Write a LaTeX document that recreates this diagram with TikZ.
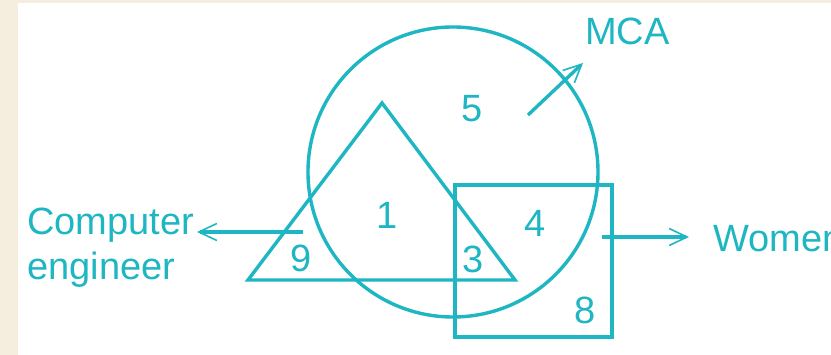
\documentclass[tikz,border=0pt]{standalone}
\usepackage{fontspec}
\setmainfont{Liberation Sans}
\usetikzlibrary{arrows.meta}
\definecolor{Teal}{HTML}{1DB6C2}
\definecolor{Paper}{HTML}{F5EEDF}
\tikzset{
  shapeline/.style={draw=Teal,line width=3.4pt,line join=miter},
  flow/.style={-{Straight Barb[length=18pt,width=17pt,line width=1.6pt]},draw=Teal,line width=3.4pt},
  num/.style={text=Teal,inner sep=0pt,font=\fontsize{38}{45}\selectfont},
  lbl/.style={text=Teal,inner sep=0pt,align=left,font=\fontsize{38}{45}\selectfont}
}
\begin{document}
\begin{tikzpicture}[x=1pt,y=-1pt]
        \useasboundingbox (0,0) rectangle (831,355);
        \fill[Paper] (0,0) rectangle (831,3);
        \fill[Paper] (0,0) rectangle (18,355);
        % sets
        \draw[shapeline] (453,172) circle (145);
        \draw[shapeline] (382,103) -- (515,280) -- (248,280) -- cycle;
        \draw[shapeline] (455,185) rectangle (612,337);
        % region counts
        \node[num] (n5) at (472,109) {5};
        \node[num] (n1) at (387,215) {1};
        \node[num] (n9) at (301,258) {9};
        \node[num] (n3) at (473,259) {3};
        \node[num] (n4) at (535,223) {4};
        \node[num] (n8) at (585,310) {8};
        % labels
        \node[lbl,anchor=base west] (mca) at (585,45) {MCA};
        \node[lbl,anchor=base west] (women) at (713,252) {Women};
        \node[lbl,anchor=base west] (comp) at (27,280) {Computer\\engineer};
        \coordinate (mcafrom) at (528,115);
        \coordinate (mcato) at (583,63);
        \coordinate (womfrom) at (602,237);
        \coordinate (womto) at (689,237);
        \coordinate (compfrom) at (303,232);
        \coordinate (compto) at (197,232);
        \draw[flow] (mcafrom) -- (mcato);
        \draw[flow] (womfrom) -- (womto);
        \draw[flow] (compfrom) -- (compto);
      \end{tikzpicture}
\end{document}
